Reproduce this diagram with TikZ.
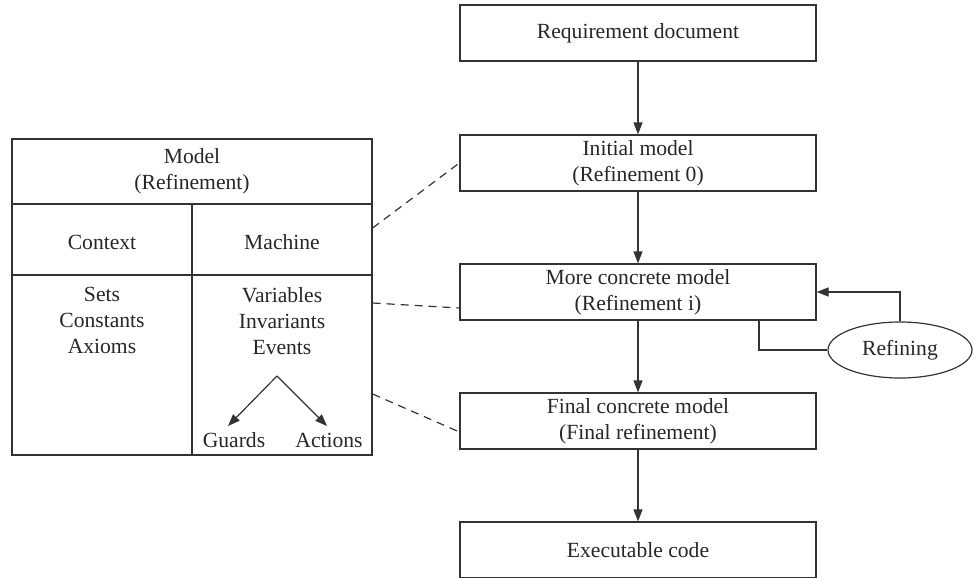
\documentclass[tikz,border=0pt]{standalone}
\usepackage{fontspec}
\setmainfont{Liberation Serif}
\usetikzlibrary{arrows.meta,shapes.geometric,calc}
\begin{document}
\begin{tikzpicture}[x=0.5pt,y=-0.5pt,
  every node/.style={font=\fontsize{10.8pt}{13pt}\selectfont, text=black!85},
  lw/.style={line width=0.6pt, draw=black!80},
  flowbox/.style={lw, rectangle, minimum width=178pt, minimum height=28pt, align=center, inner sep=0pt},
  txt/.style={align=center, inner sep=0pt},
  arr/.style={lw, -{Stealth[length=6pt,width=4.5pt,inset=0pt]}},
  link/.style={lw, dashed, dash pattern=on 4pt off 3pt}]
\useasboundingbox (0,0) rectangle (975,578);
% right column
\node[flowbox] (req) at (638,33) {Requirement document};
\node[flowbox] (init) at (638,163) {Initial model\\(Refinement 0)};
\node[flowbox] (more) at (638,292) {More concrete model\\(Refinement i)};
\node[flowbox] (final) at (638,421) {Final concrete model\\(Final refinement)};
\node[flowbox] (exec) at (638,550) {Executable code};
\draw[arr] (req) -- (init);
\draw[arr] (init) -- (more);
\draw[arr] (more) -- (final);
\draw[arr] (final) -- (exec);
% refining loop
\node[lw, ellipse, minimum width=72pt, minimum height=28pt, inner sep=0pt] (refn) at (900,350) {Refining};
\coordinate (loopstart) at (759,320);
\draw[lw] (loopstart) |- (refn.west);
\draw[arr] (refn.north) |- (more.east);
% left table
\node[lw, rectangle, minimum width=180pt, minimum height=158pt, inner sep=0pt] (tbl) at (192,297) {};
\draw[lw] (12,204) -- (372,204);
\draw[lw] (12,275) -- (372,275);
\draw[lw] (192,204) -- (192,455);
\node[txt] (model) at (192,171) {Model\\(Refinement)};
\node[txt] (ctx) at (102,242) {Context};
\node[txt] (mach) at (282,242) {Machine};
\node[txt, anchor=north] (sets) at (102,287) {Sets\\Constants\\Axioms};
\node[txt, anchor=north] (vars) at (282,287) {Variables\\Invariants\\Events};
\node[txt] (guards) at (234,440) {Guards};
\node[txt] (actions) at (329,440) {Actions};
\coordinate (apex) at (277,376);
\draw[arr] (apex) -- (228,426);
\draw[arr] (apex) -- (327,426);
% dashed links
\draw[link] ([yshift=34.5pt]tbl.east) -- (init.west);
\draw[link] ([yshift=-3pt]tbl.east) -- ([yshift=-8pt]more.west);
\draw[link] ([yshift=-48.5pt]tbl.east) -- ([yshift=-5.5pt]final.west);
\end{tikzpicture}
\end{document}
